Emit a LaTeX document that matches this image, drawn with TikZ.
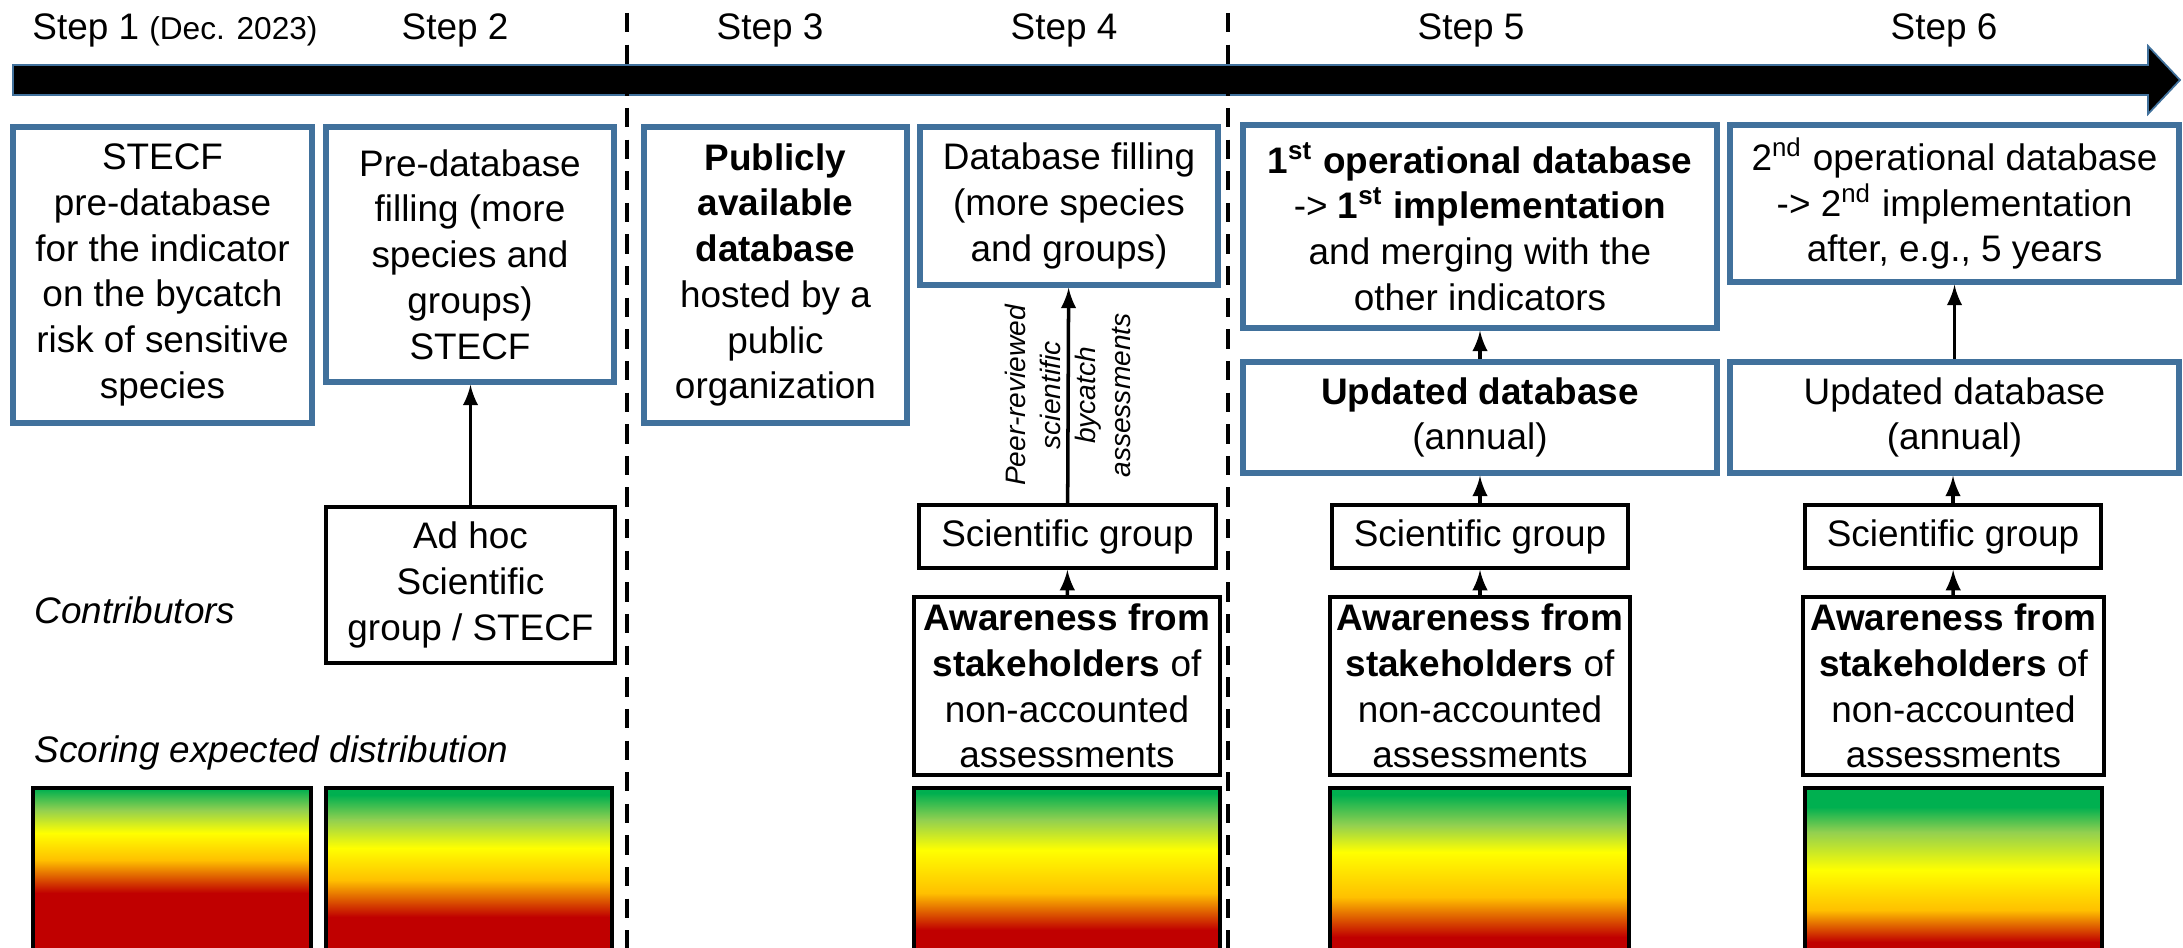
\documentclass[tikz,border=0pt]{standalone}
\usepackage{fontspec}
\setmainfont{Liberation Sans}
\usepackage{xcolor}
\usepackage{tikz}
\definecolor{boxblue}{RGB}{65,113,156}
\definecolor{scgreen}{RGB}{0,176,80}
\definecolor{sclime}{RGB}{146,208,80}
\definecolor{scyellow}{RGB}{255,255,0}
\definecolor{scorange}{RGB}{255,192,0}
\definecolor{scred}{RGB}{192,0,0}

\begin{document}
\begin{tikzpicture}[>=latex,
		every node/.style={font=\fontsize{10.5}{13}\selectfont, align=center},
		stagebox/.style={draw=boxblue, line width=1.6pt, inner sep=2pt},
		crewbox/.style={draw=black, line width=1.1pt, inner sep=2pt},
		link/.style={->, line width=1pt},
		phase/.style={draw, dash pattern=on 5.5pt off 3.5pt, line width=1.4pt}]
			\useasboundingbox (0,0) rectangle (21.83,-9.48);

			% Timeline
			\draw[draw=boxblue, line width=0.5pt, fill=black] (0.13,-0.65) -- (21.48,-0.65) -- (21.48,-0.46) -- (21.80,-0.80) -- (21.48,-1.14) -- (21.48,-0.95) -- (0.13,-0.95) -- cycle;
			\draw[phase] (6.27,-0.13) -- (6.27,-9.48);
			\draw[phase] (12.28,-0.13) -- (12.28,-9.48);

			\node[anchor=west] (s1) at (0.20,-0.30) {Step 1 {\fontsize{9}{10}\selectfont(Dec. 2023)}};
			\node (s2) at (4.55,-0.30) {Step 2};
			\node (s3) at (7.70,-0.30) {Step 3};
			\node (s4) at (10.64,-0.30) {Step 4};
			\node (s5) at (14.71,-0.30) {Step 5};
			\node (s6) at (19.44,-0.30) {Step 6};

			% Databases
			\node[stagebox, minimum width=2.99cm, minimum height=2.96cm] (stecf) at (1.625,-2.75) {STECF\\pre-database\\for the indicator\\on the bycatch\\risk of sensitive\\species};
			\node[stagebox, minimum width=2.88cm, minimum height=2.55cm] (predb) at (4.70,-2.545) {Pre-database\\filling (more\\species and\\groups)\\STECF};
			\node[stagebox, minimum width=2.63cm, minimum height=2.96cm] (pubdb) at (7.755,-2.75) {\textbf{Publicly}\\\textbf{available}\\\textbf{database}\\hosted by a\\public\\organization};
			\node[stagebox, minimum width=2.98cm, minimum height=1.58cm] (fill) at (10.69,-2.06) {Database filling\\(more species\\and groups)};
			\node[stagebox, minimum width=4.74cm, minimum height=2.03cm] (op1) at (14.80,-2.265) {\textbf{1\textsuperscript{st} operational database}\\-> \textbf{1\textsuperscript{st} implementation}\\and merging with the\\other indicators};
			\node[stagebox, minimum width=4.49cm, minimum height=1.57cm] (op2) at (19.545,-2.035) {2\textsuperscript{nd} operational database\\-> 2\textsuperscript{nd} implementation\\after, e.g., 5 years};
			\node[stagebox, minimum width=4.74cm, minimum height=1.11cm] (upd5) at (14.80,-4.175) {\textbf{Updated database}\\(annual)};
			\node[stagebox, minimum width=4.49cm, minimum height=1.11cm] (upd6) at (19.545,-4.175) {Updated database\\(annual)};

			% Contributors
			\node[anchor=west] (contrib) at (0.22,-6.10) {\itshape Contributors};
			\node[crewbox, minimum width=2.89cm, minimum height=1.56cm] (adhoc) at (4.705,-5.85) {Ad hoc\\Scientific\\group / STECF};
			\node[crewbox, minimum width=2.97cm, minimum height=0.63cm] (sci4) at (10.675,-5.365) {Scientific group};
			\node[crewbox, minimum width=3.06cm, minimum height=1.78cm] (aware4) at (10.67,-6.86) {\textbf{Awareness from}\\\textbf{stakeholders} of\\non-accounted\\assessments};
			\node[crewbox, minimum width=2.96cm, minimum height=0.63cm] (sci5) at (14.80,-5.365) {Scientific group};
			\node[crewbox, minimum width=2.99cm, minimum height=1.78cm] (aware5) at (14.80,-6.86) {\textbf{Awareness from}\\\textbf{stakeholders} of\\non-accounted\\assessments};
			\node[crewbox, minimum width=2.96cm, minimum height=0.63cm] (sci6) at (19.53,-5.365) {Scientific group};
			\node[crewbox, minimum width=2.97cm, minimum height=1.78cm] (aware6) at (19.535,-6.86) {\textbf{Awareness from}\\\textbf{stakeholders} of\\non-accounted\\assessments};

			\draw[link] (adhoc.north) -- (adhoc.north |- predb.south);
			\draw[link] (sci4) -- (fill) node[midway, rotate=90, font=\fontsize{8}{10}\selectfont\itshape] (peer) {Peer-reviewed\\scientific\\bycatch\\assessments};
			\draw[link] (aware4) -- (sci4);
			\draw[link] (aware5) -- (sci5);
			\draw[link] (sci5) -- (upd5);
			\draw[link] (upd5) -- (op1);
			\draw[link] (aware6) -- (sci6);
			\draw[link] (sci6.north) -- (sci6.north |- upd6.south);
			\draw[link] (upd6) -- (op2);

			% Scoring bars: x range, then green / lime / yellow / orange / red stops
			\node[anchor=west] (scoring) at (0.22,-7.53) {\itshape Scoring expected distribution};
			\foreach \xa/\xb/\sa/\sb/\sc/\sd/\se in {0.33/3.11/7.89/8.10/8.33/8.60/8.93, 3.26/6.12/7.95/8.20/8.48/8.80/9.17, 9.14/12.20/7.93/8.20/8.50/8.93/9.30, 13.30/16.29/7.95/8.25/8.52/8.97/9.37, 18.05/21.02/8.07/8.32/8.70/9.10/9.42} {
				\fill[scgreen] (\xa,-7.88) rectangle (\xb,-\sa);
				\shade[top color=scgreen, bottom color=sclime] (\xa,-\sa) rectangle (\xb,-\sb);
				\shade[top color=sclime, bottom color=scyellow] (\xa,-\sb) rectangle (\xb,-\sc);
				\shade[top color=scyellow, bottom color=scorange] (\xa,-\sc) rectangle (\xb,-\sd);
				\shade[top color=scorange, bottom color=scred] (\xa,-\sd) rectangle (\xb,-\se);
				\fill[scred] (\xa,-\se) rectangle (\xb,-9.48);
				\draw[line width=1.1pt] (\xa,-9.48) -- (\xa,-7.88) -- (\xb,-7.88) -- (\xb,-9.48);
			}
		\end{tikzpicture}
\end{document}
